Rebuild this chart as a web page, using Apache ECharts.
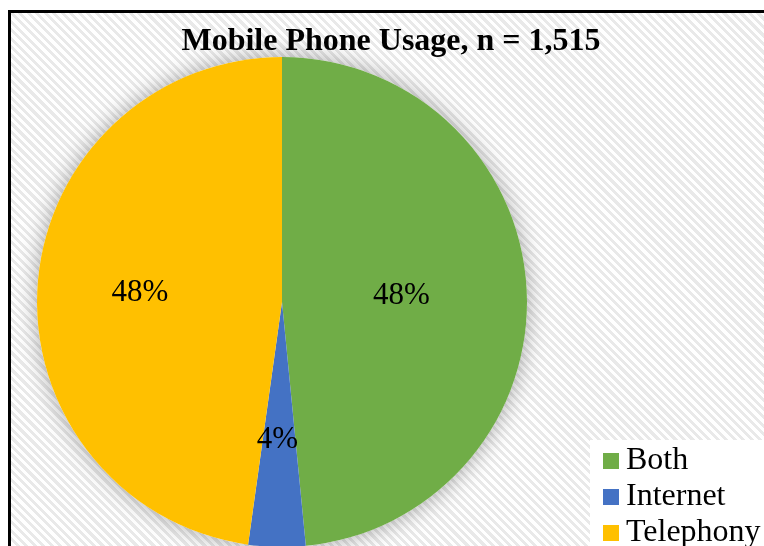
<!DOCTYPE html>
<html>
<head>
<meta charset="utf-8">
<script src="https://cdn.jsdelivr.net/npm/echarts@6/dist/echarts.min.js"></script>
<style>
  html, body { margin: 0; padding: 0; background: #fff; }
  .frame {
    position: absolute; left: 8px; top: 10px; width: 800px; height: 600px;
    border-left: 3px solid #000; border-top: 3px solid #000;
    background: repeating-linear-gradient(45deg, #ffffff 0px, #ffffff 3px, #e9e9e9 3px, #e9e9e9 6px);
  }
  #chart { position: absolute; left: 0; top: 0; width: 764px; height: 546px; }
</style>
</head>
<body>
<div class="frame"></div>
<div id="chart"></div>
<script>
// data
const categories = ["Both", "Internet", "Telephony"];
const counts = [734, 57, 724];
const colors = ["#70ad47", "#4472c4", "#ffc000"];
const titleText = "Mobile Phone Usage, n = 1,515";

const total = counts.reduce((a, b) => a + b, 0);
const serif = "'Liberation Serif', 'DejaVu Serif', serif";
const pct = p => Math.round(p.percent) + "%";

// excel puts the inside labels a bit off the half radius
const labelNudge = {
  Both: { padding: [0, 12, 0, 0] },
  Internet: { padding: [0, 4, 0, 0], lineHeight: 24, formatter: p => "\n" + pct(p) },
  Telephony: { padding: [0, 34, 0, 0] }
};

const chart = echarts.init(document.getElementById("chart"));
chart.setOption({
  backgroundColor: "transparent",
  animation: false,
  title: {
    text: titleText,
    left: 386,
    textAlign: "center",
    top: 21,
    textStyle: { fontFamily: serif, fontSize: 32, fontWeight: "bold", color: "#000" }
  },
  legend: {
    orient: "vertical",
    left: 590,
    top: 440,
    height: 140,
    padding: [5, 20, 8, 13],
    backgroundColor: "#fff",
    icon: "rect",
    itemWidth: 16,
    itemHeight: 16,
    itemGap: 4,
    data: categories,
    textStyle: { fontFamily: serif, fontSize: 32, lineHeight: 32, color: "#000", padding: [0, 0, 0, 2] }
  },
  series: [
    {
      // shadow under the whole pie
      type: "pie",
      silent: true,
      center: [282, 302],
      radius: 245,
      label: { show: false },
      labelLine: { show: false },
      data: [{ value: total, name: "_shadow" }],
      itemStyle: { color: "#fff", shadowBlur: 22, shadowColor: "rgba(0,0,0,0.35)" },
      legendHoverLink: false
    },
    {
      type: "pie",
      center: [282, 302],
      radius: 245,
      startAngle: 90,
      clockwise: true,
      data: categories.map((c, i) => ({
        name: c,
        value: counts[i],
        itemStyle: { color: colors[i] },
        label: labelNudge[c]
      })),
      label: {
        position: "inside",
        fontFamily: serif,
        fontSize: 31,
        color: "#000",
        formatter: pct
      },
      labelLine: { show: false },
      itemStyle: { borderWidth: 0 }
    }
  ]
});
</script>
</body>
</html>
